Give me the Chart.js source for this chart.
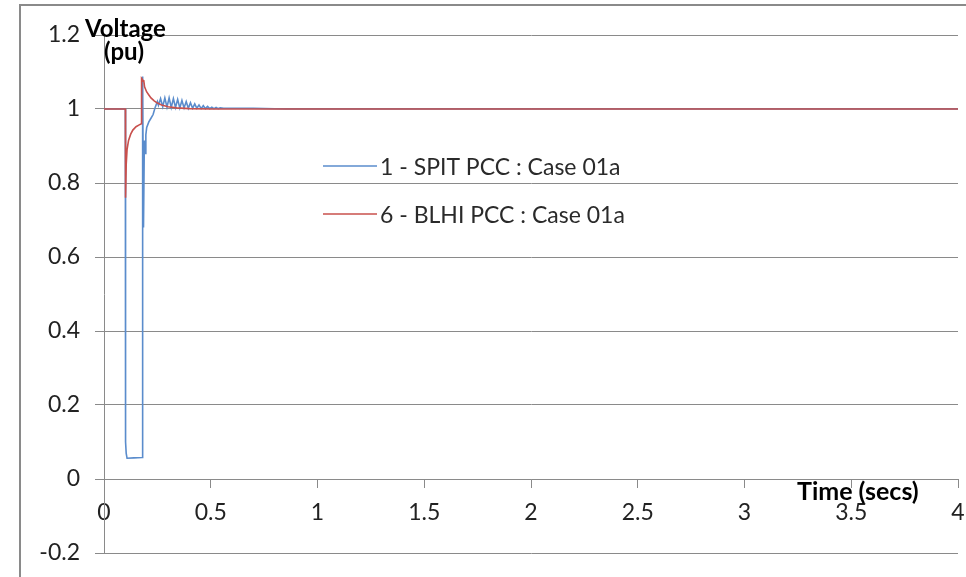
<!DOCTYPE html>
<html>
<head>
<meta charset="utf-8">
<title>Voltage (pu)</title>
<script src="https://cdn.jsdelivr.net/npm/chart.js@4.4.1/dist/chart.umd.min.js"></script>
<style>
    html, body { margin: 0; padding: 0; background: #fff; }
    #wrap { width: 966px; height: 577px; }
</style>
</head>
<body>
<div id="wrap"><canvas id="voltageChart" width="966" height="577"></canvas></div>
<script>
// values
const xTicks = [0, 0.5, 1, 1.5, 2, 2.5, 3, 3.5, 4];
const yTicks = [-0.2, 0, 0.2, 0.4, 0.6, 0.8, 1, 1.2];

const spitLabel = '1 - SPIT PCC : Case 01a';
const spitTime = [0, 0.1, 0.101, 0.104, 0.108, 0.14, 0.178, 0.181, 0.185, 0.189, 0.191, 0.193, 0.196, 0.2, 0.21, 0.22, 0.23, 0.24, 0.25, 0.255,
    0.265, 0.275, 0.285, 0.295, 0.305, 0.315, 0.325, 0.335, 0.345, 0.355, 0.365, 0.375, 0.385, 0.395, 0.405, 0.415, 0.425, 0.435,
    0.445, 0.455, 0.465, 0.475, 0.485, 0.495, 0.505, 0.515, 0.525, 0.535, 0.545, 0.56, 0.7, 0.85, 4];
const spitVolt = [1, 1, 0.1, 0.069, 0.056, 0.057, 0.058, 1.088, 0.68, 0.915, 0.9, 0.88, 0.93, 0.95, 0.965, 0.975, 0.985, 1.005, 1.02, 1.01,
    1.028, 1.006, 1.03, 1.005, 1.03, 1.004, 1.028, 1.004, 1.026, 1.003, 1.023, 1.003, 1.02, 1.002, 1.017, 1.002, 1.014, 1.002,
    1.011, 1.001, 1.009, 1.001, 1.007, 1.001, 1.005, 1.001, 1.004, 1.001, 1.003, 1.002, 1.002, 1.0, 1.0];

const blhiLabel = '6 - BLHI PCC : Case 01a';
const blhiTime = [0, 0.1, 0.101, 0.104, 0.108, 0.115, 0.125, 0.135, 0.15, 0.165, 0.175, 0.176, 0.18, 0.183, 0.186, 0.19, 0.2, 0.21,
    0.22, 0.235, 0.25, 0.27, 0.3, 0.34, 0.4, 0.5, 4];
const blhiVolt = [1, 1, 0.76, 0.85, 0.89, 0.915, 0.932, 0.943, 0.952, 0.957, 0.96, 1.083, 1.08, 1.075, 1.078, 1.06, 1.046, 1.038,
    1.03, 1.022, 1.016, 1.011, 1.006, 1.003, 1.001, 1.0, 1.0];

const axisGrey = '#8a8a8a';
const fontFamily = 'Lato, "Open Sans", sans-serif';

const toPoints = (times, values) => times.map((t, i) => ({ x: t, y: values[i] }));
const fmt = (v) => String(Math.round(v * 10) / 10);

const noScalePadding = (scale) => {
    scale.paddingLeft = 0;
    scale.paddingRight = 0;
    scale.paddingTop = 0;
    scale.paddingBottom = 0;
};

const overlay = {
    id: 'overlay',
    beforeDraw(chart) {
        const ctx = chart.ctx;
        ctx.save();
        ctx.strokeStyle = axisGrey;
        ctx.lineWidth = 2;
        ctx.beginPath();
        ctx.moveTo(20, 577);
        ctx.lineTo(20, 5);
        ctx.lineTo(966, 5);
        ctx.stroke();
        ctx.restore();
    },
    afterDraw(chart) {
        const ctx = chart.ctx;
        ctx.save();

        // legend inside the plot
        const rows = [
            { label: spitLabel, color: chart.data.datasets[0].borderColor, y: 166 },
            { label: blhiLabel, color: chart.data.datasets[1].borderColor, y: 214 },
        ];
        ctx.font = '23px ' + fontFamily;
        ctx.textBaseline = 'middle';
        ctx.textAlign = 'left';
        rows.forEach((row) => {
            ctx.strokeStyle = row.color;
            ctx.lineWidth = 1.5;
            ctx.beginPath();
            ctx.moveTo(323, row.y);
            ctx.lineTo(377, row.y);
            ctx.stroke();
            ctx.fillStyle = '#2a2a2a';
            ctx.fillText(row.label, 380, row.y + 2);
        });

        // axis titles
        ctx.fillStyle = '#000';
        ctx.textBaseline = 'alphabetic';
        ctx.font = 'bold 24px ' + fontFamily;
        ctx.fillText('Voltage', 85, 37);
        ctx.fillText('(pu)', 104, 60);
        ctx.font = 'bold 25px ' + fontFamily;
        ctx.fillText('Time (secs)', 797, 500);
        ctx.restore();
    },
};

new Chart(document.getElementById('voltageChart'), {
    type: 'line',
    data: {
        datasets: [
            {
                label: spitLabel,
                data: toPoints(spitTime, spitVolt),
                borderColor: '#5a8ccc',
                borderWidth: 1.6,
                pointRadius: 0,
                tension: 0,
                order: 1,
            },
            {
                label: blhiLabel,
                data: toPoints(blhiTime, blhiVolt),
                borderColor: '#c8504d',
                borderWidth: 1.6,
                pointRadius: 0,
                tension: 0,
                order: 0,
            },
        ],
    },
    options: {
        responsive: false,
        animation: false,
        devicePixelRatio: 1,
        layout: {
            padding: { left: 0, top: 35, right: 8, bottom: 24 },
        },
        scales: {
            x: {
                type: 'linear',
                position: { y: 0 },
                min: 0,
                max: 4,
                afterBuildTicks: (scale) => {
                    scale.ticks = xTicks.map((v) => ({ value: v }));
                },
                afterFit: noScalePadding,
                ticks: {
                    callback: (v) => fmt(v),
                    color: '#222',
                    font: { family: fontFamily, size: 23 },
                    padding: 12,
                    maxRotation: 0,
                    autoSkip: false,
                },
                grid: {
                    drawOnChartArea: false,
                    drawTicks: true,
                    tickLength: 8,
                    color: axisGrey,
                },
                border: { display: true, color: axisGrey },
            },
            y: {
                type: 'linear',
                min: -0.2,
                max: 1.2,
                afterBuildTicks: (scale) => {
                    scale.ticks = yTicks.map((v) => ({ value: v }));
                },
                afterFit: (scale) => {
                    scale.width = 104;
                    noScalePadding(scale);
                },
                ticks: {
                    callback: (v) => fmt(v),
                    color: '#222',
                    font: { family: fontFamily, size: 23 },
                    padding: 15,
                    autoSkip: false,
                },
                grid: {
                    color: axisGrey,
                    tickLength: 9,
                },
                border: { display: true, color: axisGrey },
            },
        },
        plugins: {
            legend: { display: false },
            tooltip: { enabled: false },
        },
    },
    plugins: [overlay],
});
</script>
</body>
</html>
